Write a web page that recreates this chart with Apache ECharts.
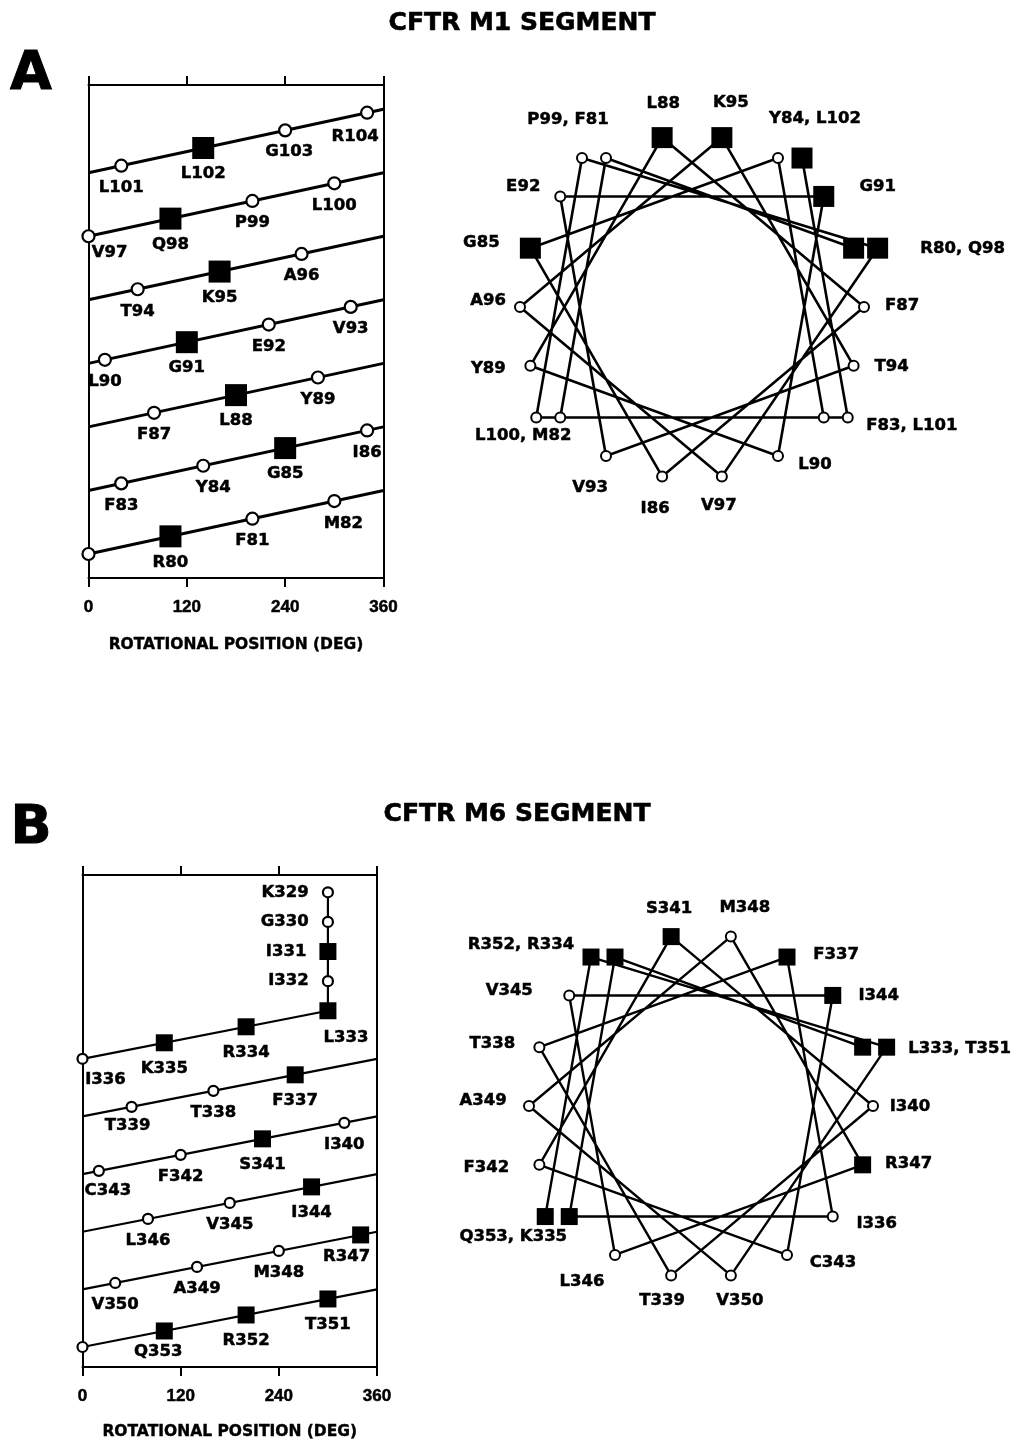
<!DOCTYPE html>
<html>
<head>
<meta charset="utf-8">
<script src="https://cdn.jsdelivr.net/npm/echarts@6/dist/echarts.min.js"></script>
<style>
html,body{margin:0;padding:0;background:#ffffff;}
#chart{width:1021px;height:1443px;}
</style>
</head>
<body>
<div id="chart"></div>
<script>
// ================= DATA =================
// M1 segment, in sequence order; '' = unlabeled residue at the start of the net
const m1NetResidues = ['', 'R80','F81','M82','F83','Y84','G85','I86','F87','L88','Y89','L90','G91','E92','V93','T94','K95','A96','V97','Q98','P99','L100','L101','L102','G103','R104'];
const m1Filled = ['R80','G85','L88','G91','K95','Q98','L102'];
const m1WheelResidues = ['R80','F81','M82','F83','Y84','G85','I86','F87','L88','Y89','L90','G91','E92','V93','T94','K95','A96','V97','Q98','P99','L100','L101','L102'];

// M6 segment, in sequence order; stalk residues drawn above the helix, '' = unlabeled residue at the end
const m6StalkResidues = ['K329','G330','I331','I332'];
const m6NetResidues = ['L333','R334','K335','I336','F337','T338','T339','I340','S341','F342','C343','I344','V345','L346','R347','M348','A349','V350','T351','R352','Q353',''];
const m6Filled = ['I331','L333','R334','K335','F337','S341','I344','R347','T351','R352','Q353'];
const m6WheelResidues = ['L333','R334','K335','I336','F337','T338','T339','I340','S341','F342','C343','I344','V345','L346','R347','M348','A349','V350','T351','R352','Q353'];

const degPerResidue = 100;
const xTickValues = [0, 120, 240, 360];
const titles = ['CFTR M1 SEGMENT', 'CFTR M6 SEGMENT'];
const panelLetters = ['A', 'B'];
const axisTitle = 'ROTATIONAL POSITION (DEG)';

// ================= LAYOUT / STYLE =================
const labelFont = {fontFamily:'DejaVu Sans', fontWeight:'bold', fontSize:16.5, color:'#000',
  textBorderColor:'#000', textBorderWidth:0.5, opacity:1};
const netNudge = {
  A: {V97:[21,16], R104:[-12,24], M82:[9,23], Y84:[10,22], G103:[4,21]},
  B: {L333:[18,27], I336:[23,21], R347:[-14,22], Q353:[-6,21], C343:[9,20], T339:[-4,19]}
};
const wheelLabelOffset = {
  A: {L88:[1,-34], K95:[9,-35], Y84:[37,-39], G91:[54,-10], R80:[109,1], F87:[38,-1], T94:[38,1], F83:[88,8],
      L90:[37,9], V97:[-3,29], I86:[-7,32], V93:[-16,32], M82:[-37,18], Y89:[-42,3], A96:[-32,-6], G85:[-49,-5],
      E92:[-37,-10], F81:[-38,-38]},
  B: {S341:[-2,-28], M348:[14,-29], R334:[-94,-12], F337:[49,-2], I344:[46,0], L333:[97,2], I340:[37,1], R347:[46,-1],
      I336:[44,7], C343:[46,8], V350:[9,25], T339:[-9,25], L346:[-33,27], K335:[-56,20], F342:[-53,3], A349:[-46,-5],
      T338:[-47,-3], V345:[-60,-5]}
};
const WHEEL_R = 172, WHEEL_START = 70, PAIR_SHIFT = 24, STALK_RISE = 185;

// ================= BUILD =================
function netPoints(residues, reversed) {
  const n = residues.length;
  return residues.map((name, i) => {
    const c = (reversed ? (n - 1 - i) : i) * degPerResidue;
    return {name, c, x: c % 360};
  });
}

function netSeries(idx, pts, filled, nudges, extendToEdge, lineW, sq, circ, stalk) {
  const series = [];
  const cMax = Math.max(...pts.map(p => p.c));
  const turns = Math.ceil(cMax / 360);
  for (let k = 0; k < turns; k++) {
    const c0 = 360 * k;
    const c1 = extendToEdge ? 360 * (k + 1) : Math.min(360 * (k + 1), cMax);
    series.push({type:'line', xAxisIndex:idx, yAxisIndex:idx, symbol:'none', silent:true, z:2,
      lineStyle:{color:'#000', width:lineW}, data:[[c0 - 360*k, c0], [c1 - 360*k, c1]]});
  }
  let all = pts.slice();
  if (stalk) {
    const top = pts.reduce((a, b) => (b.c > a.c ? b : a));
    const sp = stalk.map((name, i) => ({name, c: top.c + (stalk.length - i) * STALK_RISE, x: top.x, stalk:true}));
    series.push({type:'line', xAxisIndex:idx, yAxisIndex:idx, symbol:'none', silent:true, z:2,
      lineStyle:{color:'#000', width:lineW}, data:[[top.x, top.c], [top.x, sp[0].c]]});
    all = all.concat(sp);
  }
  const data = all.map(p => {
    const isF = filled.includes(p.name);
    const off = nudges[p.name] || [0, isF ? 26 : 22];
    const lab = p.stalk
      ? {show:true, position:'left', distance:13, formatter:p.name, ...labelFont}
      : {show: p.name !== '', position:'inside', offset:off, formatter:p.name, ...labelFont};
    return {
      value:[p.x, p.c], name:p.name,
      symbol: isF ? 'rect' : 'circle',
      symbolSize: isF ? sq : circ,
      itemStyle: isF ? {color:'#000', borderColor:'#000', borderWidth:0, opacity:1} : {color:'#fff', borderColor:'#000', borderWidth:2.2, opacity:1},
      label: lab
    };
  });
  series.push({type:'scatter', xAxisIndex:idx, yAxisIndex:idx, clip:false, z:5, silent:true, itemStyle:{opacity:1}, data});
  return series;
}

function wheelSeries(axIdx, residues, filled, offsets, sq, circ, lineW) {
  const pos = residues.map((name, k) => {
    const th = (WHEEL_START - degPerResidue * k) * Math.PI / 180;
    let x = WHEEL_R * Math.sin(th), y = WHEEL_R * Math.cos(th);
    const turn = Math.floor(k / 18);
    if (turn > 0) x += (x >= 0 ? 1 : -1) * PAIR_SHIFT;
    return {name, x, y, slot: k % 18, turn};
  });
  const series = [];
  series.push({type:'line', xAxisIndex:axIdx, yAxisIndex:axIdx, symbol:'none', silent:true, z:2,
    lineStyle:{color:'#000', width:lineW}, data: pos.map(p => [p.x, p.y])});
  series.push({type:'scatter', xAxisIndex:axIdx, yAxisIndex:axIdx, clip:false, z:5, silent:true, itemStyle:{opacity:1},
    data: pos.map(p => {
      const isF = filled.includes(p.name);
      return {value:[p.x, p.y], name:p.name, symbol: isF ? 'rect' : 'circle', symbolSize: isF ? sq : circ,
        itemStyle: isF ? {color:'#000', opacity:1} : {color:'#fff', borderColor:'#000', borderWidth:2, opacity:1}};
    })});
  const labData = [];
  for (let s = 0; s < 18; s++) {
    const group = pos.filter(p => p.slot === s);
    if (!group.length) continue;
    const base = group.find(p => p.turn === 0);
    const text = group.slice().sort((a, b) => a.x - b.x).map(p => p.name).join(', ');
    labData.push({value:[base.x, base.y], name:text,
      label:{show:true, position:'inside', offset: offsets[base.name] || [0, 0], formatter:text, ...labelFont}});
  }
  series.push({type:'scatter', xAxisIndex:axIdx, yAxisIndex:axIdx, clip:false, z:6, silent:true,
    symbol:'circle', symbolSize:1, itemStyle:{color:'rgba(0,0,0,0)', opacity:1}, data: labData});
  return series;
}

// grids
const grids = [
  {left:88.5, top:85, width:295, height:493},
  {left:442, top:57, width:500, height:500},
  {left:82.5, top:875, width:294.5, height:492},
  {left:451, top:856, width:500, height:500}
];
const netYRange = [[-136, 2657], [-125, 2948]];

function netXAxis(g, pos, showLabels, nameGap, margin) {
  return {gridIndex:g, type:'value', position:pos, min:0, max:360, interval:120,
    axisLine:{show:true, onZero:false, lineStyle:{color:'#000', width:2}},
    axisTick:{show:true, inside:false, length:9, lineStyle:{color:'#000', width:2}},
    axisLabel:{show:showLabels, margin:margin, fontFamily:'Liberation Sans', fontWeight:'bold', fontSize:17, color:'#000',
      textBorderColor:'#000', textBorderWidth:0.5,
      formatter: v => xTickValues.includes(v) ? String(v) : ''},
    splitLine:{show:false},
    name: showLabels ? axisTitle : '', nameLocation:'middle', nameGap:nameGap,
    nameTextStyle:{fontFamily:'DejaVu Sans', fontWeight:'bold', fontSize:15.5, color:'#000', textBorderColor:'#000', textBorderWidth:0.4}};
}
function netYAxis(g, pos, range) {
  return {gridIndex:g, type:'value', position:pos, min:range[0], max:range[1],
    axisLine:{show:true, onZero:false, lineStyle:{color:'#000', width:2}},
    axisTick:{show:false}, axisLabel:{show:false}, splitLine:{show:false}};
}
function wheelAxis(g) {
  return {gridIndex:g, type:'value', min:-250, max:250, show:false, splitLine:{show:false}};
}

const xAxis = [
  netXAxis(0, 'bottom', true, 59, 21),
  netXAxis(0, 'top', false, 0, 8),
  wheelAxis(1),
  netXAxis(2, 'bottom', true, 57, 21),
  netXAxis(2, 'top', false, 0, 8),
  wheelAxis(3)
];
const yAxis = [
  netYAxis(0, 'left', netYRange[0]),
  netYAxis(0, 'right', netYRange[0]),
  wheelAxis(1),
  netYAxis(2, 'left', netYRange[1]),
  netYAxis(2, 'right', netYRange[1]),
  wheelAxis(3)
];
const series = [].concat(
  netSeries(0, netPoints(m1NetResidues, false), m1Filled, netNudge.A, true, 3, 22, 12),
  wheelSeries(2, m1WheelResidues, m1Filled, wheelLabelOffset.A, 21, 10, 2.6),
  netSeries(3, netPoints(m6NetResidues, true), m6Filled, netNudge.B, false, 2.2, 17, 10, m6StalkResidues),
  wheelSeries(5, m6WheelResidues, m6Filled, wheelLabelOffset.B, 17, 10, 2.4)
);

const titleStyle = {font:'bold 25px "DejaVu Sans"', fill:'#000', stroke:'#000', lineWidth:0.6,
  textAlign:'center', textVerticalAlign:'middle', align:'center', verticalAlign:'middle'};
const letterStyle = {font:'bold 54px "DejaVu Sans"', fill:'#000', stroke:'#000', lineWidth:1,
  textAlign:'center', textVerticalAlign:'middle', align:'center', verticalAlign:'middle'};
const graphic = [
  {type:'text', x:522, y:23, style:Object.assign({text:titles[0]}, titleStyle)},
  {type:'text', x:31, y:75, style:Object.assign({text:panelLetters[0]}, letterStyle)},
  {type:'text', x:517, y:814, style:Object.assign({text:titles[1]}, titleStyle)},
  {type:'text', x:31, y:829, style:Object.assign({text:panelLetters[1]}, letterStyle)}
];

const chart = echarts.init(document.getElementById('chart'), null, {renderer:'canvas'});
chart.setOption({
  animation:false,
  backgroundColor:'#ffffff',
  grid: grids,
  xAxis: xAxis,
  yAxis: yAxis,
  series: series,
  graphic: graphic
});
</script>
</body>
</html>
